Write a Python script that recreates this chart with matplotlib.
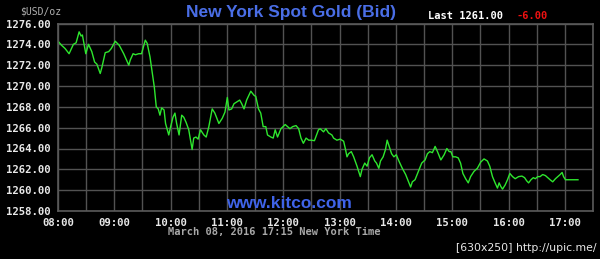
import matplotlib
matplotlib.use("Agg")
import matplotlib.pyplot as plt
from matplotlib.ticker import MultipleLocator, FixedLocator, FixedFormatter

# minutes after 08:00 New York time, bid price in USD/oz
minutes = [
    0, 3.9, 7.5, 11.8, 16.4, 19.3, 22.5, 24.6, 26, 29.6, 32.5, 36, 39, 41.4, 45, 46.8,
    50.3, 54, 56.8, 61, 65.3, 70, 72.9, 75.4, 77, 80, 82.5, 86, 89, 91.4, 93, 95,
    98, 100.5, 102.6, 104.7, 106.8, 108.6, 110.4, 113, 114.6, 118, 120, 122.5, 124.6,
    126.4, 129, 131.8, 134, 136.5, 139.3, 142.9, 144.6, 147, 149.3, 151.8, 155.4,
    157.9, 160.7, 164.3, 167.1, 171.4, 175, 177.9, 180.4, 182.1, 185, 187.5, 191,
    193.6, 195.7, 198.2, 201, 205.4, 208.9, 210.7, 213.6, 216, 218.6, 221.4, 223.2,
    226.8, 229.3, 231.4, 233.9, 237.5, 242.1, 244.6, 247.1, 250, 253.6, 256.4, 258.9,
    261.4, 264.3, 267.1, 269.6, 273.2, 277.5, 279.3, 282.9, 285.4, 288.2, 291.8,
    293.6, 297.1, 300.7, 304.3, 306.1, 307.9, 309.6, 312.5, 315, 318.6, 322.1, 323.9,
    326.8, 329.3, 331.8, 334.6, 337.5, 339.3, 341.8, 343.6, 346.4, 348.9, 350.7,
    352.5, 355.4, 357.9, 360.4, 363.2, 366.8, 370.4, 373.9, 375.7, 377.5, 380.4,
    383.9, 387.5, 391.1, 393.6, 396.1, 398.9, 401.8, 404.3, 407.9, 411.4, 414.3,
    416.8, 418.6, 420.7, 423.6, 426.4, 428.9, 431.4, 434.3, 437.1, 439.6, 443.2,
    446.8, 450.4, 453.9, 457.5, 460, 462.9, 465.7, 468.2, 470, 471.8, 473.6, 476.4,
    478.9, 481.4, 484.3, 487.1, 490.7, 494.3, 497.1, 499.3, 501.4, 503.9, 506.4,
    508.6, 511.1, 513.6, 516.4, 519.3, 521.8, 524.3, 527.1, 530, 532.5, 535, 537.1,
    538.6, 540.7, 545, 550.4, 554,
]
prices = [
    1274.3, 1273.9, 1273.6, 1273.1, 1274.0, 1274.15, 1275.2, 1274.8, 1274.9, 1273.1,
    1274.0, 1273.3, 1272.3, 1272.1, 1271.2, 1271.8, 1273.2, 1273.3, 1273.6, 1274.3,
    1273.9, 1273.1, 1272.5, 1272.0, 1272.5, 1273.1, 1273.0, 1273.1, 1273.1, 1273.9,
    1274.4, 1274.1, 1272.8, 1271.2, 1269.9, 1268.0, 1267.8, 1267.2, 1267.9, 1267.7,
    1266.4, 1265.3, 1266.1, 1267.0, 1267.4, 1266.4, 1265.3, 1267.2, 1267.0, 1266.5,
    1265.8, 1263.9, 1265.0, 1265.1, 1264.9, 1265.8, 1265.3, 1265.1, 1266.1, 1267.8,
    1267.4, 1266.4, 1266.9, 1267.5, 1268.9, 1267.7, 1267.8, 1268.3, 1268.5, 1268.65,
    1268.3, 1267.8, 1268.65, 1269.5, 1269.1, 1269.0, 1267.8, 1267.4, 1266.1, 1266.1,
    1265.3, 1265.1, 1265.0, 1265.8, 1265.1, 1265.9, 1266.3, 1266.1, 1265.9, 1266.1,
    1266.2, 1265.9, 1265.0, 1264.5, 1265.0, 1264.8, 1264.8, 1264.75, 1265.8, 1265.9,
    1265.6, 1265.9, 1265.5, 1265.3, 1265.0, 1264.8, 1264.9, 1264.7, 1264.0, 1263.2,
    1263.5, 1263.7, 1263.2, 1262.3, 1261.3, 1262.0, 1262.6, 1262.3, 1263.1, 1263.4,
    1262.8, 1262.6, 1262.1, 1262.8, 1263.2, 1263.9, 1264.8, 1264.3, 1263.5, 1263.2,
    1263.4, 1262.8, 1262.1, 1261.5, 1260.7, 1260.3, 1260.8, 1261.0, 1261.8, 1262.6,
    1262.9, 1263.5, 1263.7, 1263.6, 1264.2, 1263.7, 1262.9, 1263.4, 1264.0, 1263.7,
    1263.7, 1263.2, 1263.2, 1263.1, 1262.6, 1261.6, 1261.1, 1260.7, 1261.3, 1261.8,
    1262.1, 1262.7, 1263.0, 1262.8, 1262.3, 1261.3, 1260.7, 1260.2, 1260.7, 1260.35,
    1260.1, 1260.5, 1261.0, 1261.6, 1261.3, 1261.1, 1261.3, 1261.35, 1261.2, 1260.9,
    1260.7, 1261.0, 1261.2, 1261.1, 1261.3, 1261.3, 1261.5, 1261.4, 1261.2, 1261.0,
    1260.8, 1261.1, 1261.3, 1261.5, 1261.7, 1261.3, 1261.0, 1261.0, 1261.0, 1261.0,
]
hour_labels = ["08:00", "09:00", "10:00", "11:00", "12:00",
               "13:00", "14:00", "15:00", "16:00", "17:00"]
y_ticks = [1258, 1260, 1262, 1264, 1266, 1268, 1270, 1272, 1274, 1276]

grid_col = "#525252"
mono = "DejaVu Sans Mono"

fig = plt.figure(figsize=(6, 2.59), dpi=100, facecolor="black")
ax = fig.add_axes([58 / 600, 1 - 211 / 259, 535 / 600, 187.5 / 259])
ax.set_facecolor("black")

ax.plot(minutes, prices, color="#2ee62e", linewidth=1.0)

ax.set_xlim(0, 570)
ax.set_ylim(1258, 1276)
ax.xaxis.set_major_locator(FixedLocator([60 * i for i in range(len(hour_labels))]))
ax.xaxis.set_major_formatter(FixedFormatter(hour_labels))
ax.xaxis.set_minor_locator(MultipleLocator(30))
ax.set_yticks(y_ticks)
ax.set_yticklabels([f"{v:.2f}" for v in y_ticks])

ax.grid(True, which="both", color=grid_col, linewidth=1.0)
ax.set_axisbelow(True)
ax.tick_params(which="both", length=0, colors="#e8e8e8")
ax.tick_params(axis="y", pad=5)
ax.tick_params(axis="x", pad=5)
for lbl in ax.get_xticklabels() + ax.get_yticklabels():
    lbl.set_family(mono)
    lbl.set_fontweight("bold")
    lbl.set_fontsize(7.7)
for s in ax.spines.values():
    s.set_color("#5a5a5a")
    s.set_linewidth(1.2)

# texts around the chart
fig.text(20 / 600, 1 - 11 / 259, "$USD/oz", color="#b0b0b0", family=mono,
         fontsize=7, va="center", ha="left")
fig.text(291 / 600, 1 - 12 / 259, "New York Spot Gold (Bid)", color="#4a6ee6",
         family="Liberation Sans", fontweight="bold", fontsize=12.5,
         ha="center", va="center")
fig.text(428 / 600, 1 - 16 / 259, "Last 1261.00", color="white", family=mono,
         fontweight="bold", fontsize=7.5, ha="left", va="center")
fig.text(517 / 600, 1 - 16 / 259, "-6.00", color="#ee1111", family=mono,
         fontweight="bold", fontsize=7.5, ha="left", va="center")
fig.text(289 / 600, 1 - 204 / 259, "www.kitco.com", color="#3f63e8",
         family="Liberation Sans", fontweight="bold", fontsize=12.5,
         ha="center", va="center")
fig.text(168 / 600, 1 - 232 / 259, "March 08, 2016 17:15 New York Time",
         color="#a8a8a8", family=mono, fontweight="bold", fontsize=7.5,
         ha="left", va="center")
fig.text(596 / 600, 1 - 248 / 259, "[630x250] http://upic.me/", color="#e8e8e8",
         family="DejaVu Sans", fontsize=7.8, ha="right", va="center")

plt.savefig("out.png", dpi=100, facecolor="black")
